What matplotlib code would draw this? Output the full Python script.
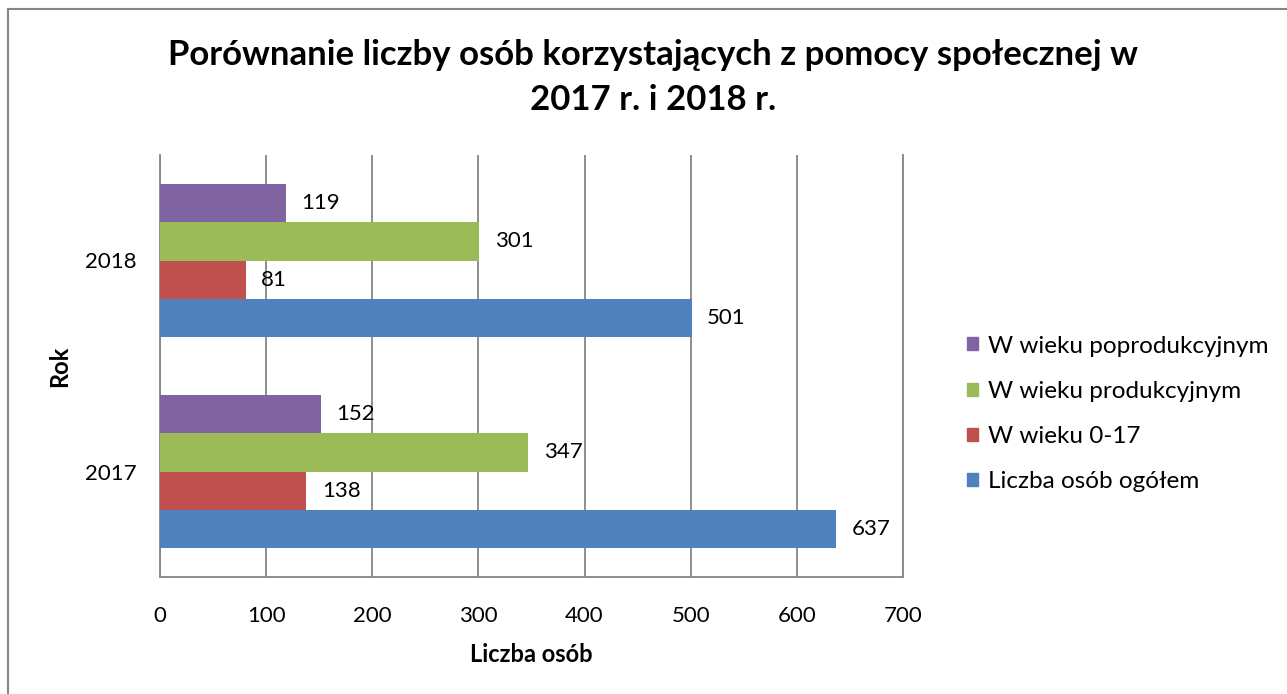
import matplotlib
matplotlib.use("Agg")
import matplotlib.pyplot as plt
from matplotlib.lines import Line2D
from matplotlib.patches import Patch
import numpy as np

plt.rcParams['font.family'] = ['Lato', 'DejaVu Sans']

years = ["2017", "2018"]
series_names = ["Liczba osób ogółem", "W wieku 0-17", "W wieku produkcyjnym", "W wieku poprodukcyjnym"]
values_total = [637, 501]
values_0_17 = [138, 81]
values_prod = [347, 301]
values_poprod = [152, 119]
series_values = [values_total, values_0_17, values_prod, values_poprod]
colors = ["#4F81BD", "#C0504D", "#9BBB59", "#8064A2"]
xticks = [0, 100, 200, 300, 400, 500, 600, 700]
title_lines = ["Porównanie liczby osób korzystających z pomocy społecznej w", "2017 r. i 2018 r."]

W, H = 1287, 694
fig = plt.figure(figsize=(W / 100, H / 100), dpi=100)
ax = fig.add_axes([160 / W, 1 - 577 / H, 743 / W, 422 / H])

# figure frame (top and left visible)
fig.add_artist(Line2D([8 / W, 8 / W], [0, 1 - 9 / H], color="#868686", lw=1.5, transform=fig.transFigure))
fig.add_artist(Line2D([8 / W, 1], [1 - 9 / H, 1 - 9 / H], color="#868686", lw=1.5, transform=fig.transFigure))

n = len(series_values)
h = 1 / (n + 1.5)
y = np.arange(len(years))
for i, (vals, c) in enumerate(zip(series_values, colors)):
    pos = y + (i - (n - 1) / 2) * h
    bars = ax.barh(pos, vals, height=h, color=c, edgecolor="none", zorder=3, label=series_names[i])
    for b, v in zip(bars, vals):
        ax.annotate(str(v), (b.get_width(), b.get_y() + b.get_height() / 2),
                    xytext=(11, 0), textcoords="offset points", va="center", ha="left",
                    fontsize=16, color="black", zorder=4)

ax.set_xlim(0, 700)
ax.set_ylim(-0.5, 1.5)
ax.set_xticks(xticks)
ax.set_xticklabels([str(t) for t in xticks])
ax.set_yticks(y)
ax.set_yticklabels(years)
ax.tick_params(axis="both", length=0, labelsize=16)
ax.tick_params(axis="x", pad=21)
ax.tick_params(axis="y", pad=17)
ax.grid(axis="x", color="#868686", lw=1.3, zorder=0)
for s in ["left", "bottom", "right"]:
    ax.spines[s].set_color("#868686")
    ax.spines[s].set_linewidth(1.3)
ax.spines["top"].set_visible(False)

ax.set_xlabel("Liczba osób", fontsize=17, fontweight="bold", labelpad=12)
ax.set_ylabel("Rok", fontsize=17, fontweight="bold", labelpad=10)

fig.text(653 / W, 1 - 55 / H, title_lines[0], ha="center", va="center", fontsize=25, fontweight="bold")
fig.text(653 / W, 1 - 100 / H, title_lines[1], ha="center", va="center", fontsize=25, fontweight="bold")

handles = [Patch(color=colors[i]) for i in reversed(range(n))]
labels = [series_names[i] for i in reversed(range(n))]
fig.legend(handles, labels, loc="center left", bbox_to_anchor=(945 / W, 1 - 414 / H), frameon=False,
           fontsize=17.5, handlelength=0.45, handleheight=0.45, handletextpad=0.4, labelspacing=1.0)

fig.savefig("out.png", dpi=100)
